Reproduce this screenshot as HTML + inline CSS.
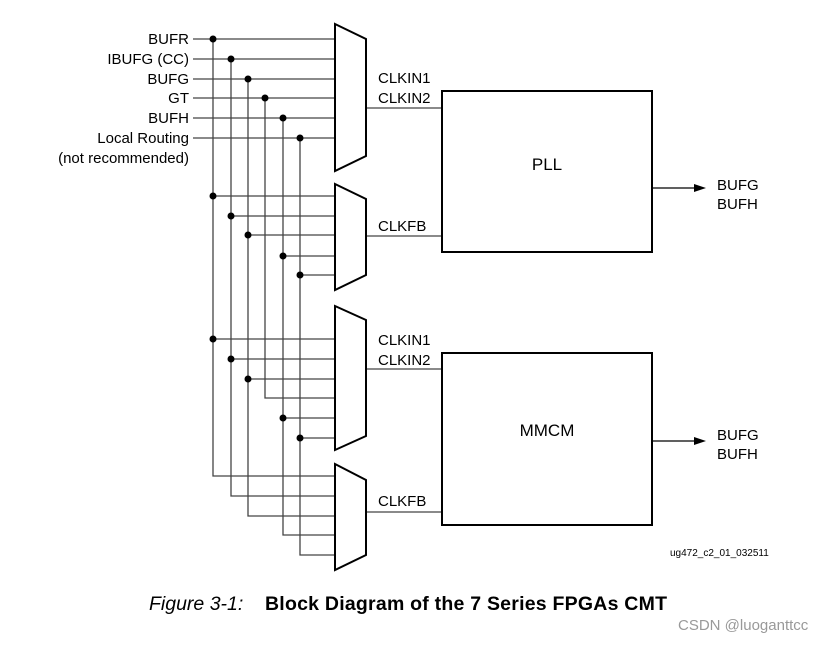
<!DOCTYPE html>
<html><head><style>
body{margin:0;background:#fff;width:827px;height:642px;overflow:hidden}
svg text{font-family:"Liberation Sans",Arial,sans-serif;fill:#000}
</style></head><body>
<svg width="827" height="642" viewBox="0 0 827 642" xmlns="http://www.w3.org/2000/svg">
<g font-size="15" text-anchor="end">
<text x="189" y="44">BUFR</text>
<text x="189" y="64">IBUFG (CC)</text>
<text x="189" y="84">BUFG</text>
<text x="189" y="103">GT</text>
<text x="189" y="123">BUFH</text>
<text x="189" y="143">Local Routing</text>
<text x="189" y="163">(not recommended)</text>
</g>
<g stroke="#444" stroke-width="1.3" fill="none">
<path d="M193 39H335M193 59H335M193 79H335M193 98H335M193 118H335M193 138H335"/>
<path d="M213 39V476H335M231 59V496H335M248 79V516H335M265 98V398H335M283 118V535H335M300 138V555H335"/>
<path d="M213 196H335M231 216H335M248 235H335M283 256H335M300 275H335"/>
<path d="M213 339H335M231 359H335M248 379H335M283 418H335M300 438H335"/>
<path d="M366 108H442M366 236H442M366 369H442M366 512H442"/>
</g>
<g fill="#000">
<circle cx="213" cy="39" r="3.5"/><circle cx="231" cy="59" r="3.5"/><circle cx="248" cy="79" r="3.5"/><circle cx="265" cy="98" r="3.5"/><circle cx="283" cy="118" r="3.5"/><circle cx="300" cy="138" r="3.5"/>
<circle cx="213" cy="196" r="3.5"/><circle cx="231" cy="216" r="3.5"/><circle cx="248" cy="235" r="3.5"/><circle cx="283" cy="256" r="3.5"/><circle cx="300" cy="275" r="3.5"/>
<circle cx="213" cy="339" r="3.5"/><circle cx="231" cy="359" r="3.5"/><circle cx="248" cy="379" r="3.5"/><circle cx="283" cy="418" r="3.5"/><circle cx="300" cy="438" r="3.5"/>
</g>
<g stroke="#000" stroke-width="2" fill="#fff">
<path d="M335 24L366 39V156L335 171Z"/>
<path d="M335 184L366 199V275L335 290Z"/>
<path d="M335 306L366 320V436L335 450Z"/>
<path d="M335 464L366 480V555L335 570Z"/>
<rect x="442" y="91" width="210" height="161"/>
<rect x="442" y="353" width="210" height="172"/>
</g>
<g stroke="#000" stroke-width="1.3"><path d="M652 188H696M652 441H696"/></g>
<path d="M706 188L694 184V192Z M706 441L694 437V445Z" fill="#000"/>
<g font-size="15">
<text x="378" y="83">CLKIN1</text><text x="378" y="103">CLKIN2</text>
<text x="378" y="231">CLKFB</text>
<text x="378" y="345">CLKIN1</text><text x="378" y="365">CLKIN2</text>
<text x="378" y="506">CLKFB</text>
<text x="717" y="190">BUFG</text><text x="717" y="209">BUFH</text>
<text x="717" y="440">BUFG</text><text x="717" y="459">BUFH</text>
</g>
<text x="547" y="170" font-size="17" text-anchor="middle">PLL</text>
<text x="547" y="436" font-size="17" text-anchor="middle">MMCM</text>
<text x="670" y="556" font-size="10">ug472_c2_01_032511</text>
<text x="149" y="610" font-size="19.5" font-style="italic">Figure 3-1:</text>
<text x="265" y="610" font-size="19.5" font-weight="bold" textLength="402">Block Diagram of the 7 Series FPGAs CMT</text>
<text x="678" y="630" font-size="15" style="fill:#999">CSDN @luoganttcc</text>
</svg>
</body></html>
